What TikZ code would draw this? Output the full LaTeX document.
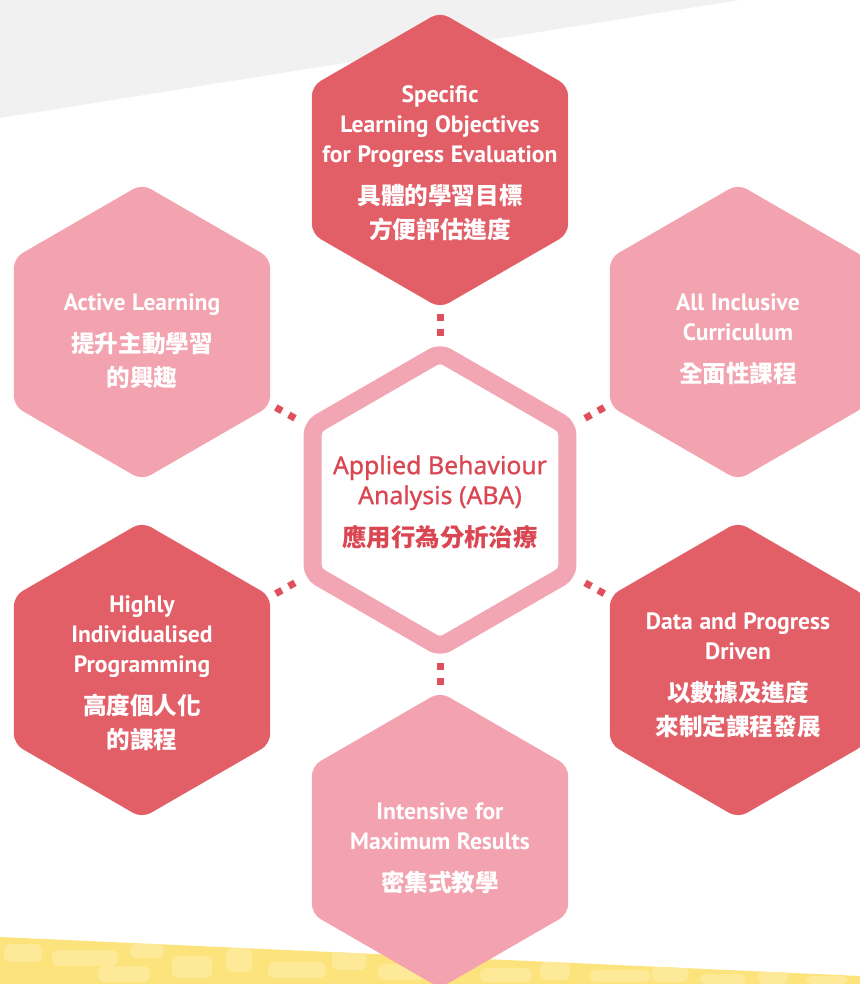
\documentclass[tikz,border=0pt]{standalone}
\usepackage{fontspec}
\usetikzlibrary{shapes.geometric}

\newfontfamily\engfont{PT Sans}
\newfontfamily\abafont{Noto Sans}[FakeBold=0.8]
\newfontfamily\cjkfont{Noto Sans CJK TC}

\definecolor{hexred}{HTML}{E35F68}
\definecolor{hexpink}{HTML}{F3A2AF}
\definecolor{ringpink}{HTML}{F2A5B3}
\definecolor{abared}{HTML}{DA4652}
\definecolor{dotred}{HTML}{E0505C}
\definecolor{bandgray}{HTML}{F1F1F1}
\definecolor{bandyellow}{HTML}{FCE37C}
\definecolor{spotyellow}{HTML}{FDE998}

% english lines, then chinese lines
\newcommand{\hexcaption}[2]{{\engfont\bfseries\fontsize{11.8}{15}\selectfont #1\par}\vskip4pt{\cjkfont\bfseries\fontsize{11.8}{17}\selectfont #2\par}}

\tikzset{
  hex/.style={regular polygon, regular polygon sides=6, shape border rotate=30, minimum size=148pt, inner sep=0pt, rounded corners=5pt},
  hexdark/.style={hex, fill=hexred},
  hexlight/.style={hex, fill=hexpink},
  hexcentre/.style={hex, minimum size=147pt, fill=white, draw=ringpink, line width=9pt, rounded corners=4pt},
  hextext/.style={text width=134pt, align=center, text=white, inner sep=0pt},
  dotlink/.style={draw=dotred, line width=3.5pt, dash pattern=on 3.5pt off 4pt, shorten <=3pt, shorten >=3pt}
}

\begin{document}
\begin{tikzpicture}[x=0.5pt, y=-0.5pt]
  \clip (0,0) rectangle (860,984);
  % Background bands
  \fill[bandgray] (0,0) -- (740,0) -- (0,118) -- cycle;
  \fill[bandyellow] (0,937) -- (860,976) -- (860,984) -- (0,984) -- cycle;
  \begin{scope}
    \clip (0,937) -- (860,976) -- (860,984) -- (0,984) -- cycle;
    \foreach \x/\y/\w/\h in {4/944/38/18, 52/950/66/16, 98/966/52/16, 130/944/34/14, 172/956/40/22,
      226/948/26/24, 268/962/58/16, 332/950/34/20, 378/964/46/16, 432/956/30/22, 480/968/52/14,
      540/962/30/18, 590/970/60/12, 652/966/36/16, 700/974/46/10, 758/970/30/14, 806/976/42/8}
      \fill[spotyellow, rounded corners=3pt] (\x,\y) rectangle ++(\w,\h);
  \end{scope}

  % Hexagons
  \node[hexdark] (objectives) at (440,160) {};
  \node[hexlight] (active) at (142,332) {};
  \node[hexlight] (inclusive) at (738,332) {};
  \node[hexdark] (individual) at (142,670) {};
  \node[hexdark] (datadriven) at (738,670) {};
  \node[hexlight] (intensive) at (440,840) {};
  \node[hexcentre] (aba) at (440,500) {};

  % Dotted links
  \draw[dotlink] (objectives) -- (aba);
  \draw[dotlink] (active) -- (aba);
  \draw[dotlink] (inclusive) -- (aba);
  \draw[dotlink] (individual) -- (aba);
  \draw[dotlink] (datadriven) -- (aba);
  \draw[dotlink] (aba) -- (intensive);

  % Texts
  \node[hextext] (objectivestext) at (440,163) {\hexcaption{Specific\\Learning Objectives\\for Progress Evaluation}{具體的學習目標\\方便評估進度}};
  \node[hextext] (activetext) at (142,341) {\hexcaption{Active Learning}{提升主動學習\\的興趣}};
  \node[hextext] (inclusivetext) at (738,339) {\hexcaption{All Inclusive\\Curriculum}{全面性課程}};
  \node[hextext] (individualtext) at (142,673) {\hexcaption{Highly\\Individualised\\Programming}{高度個人化\\的課程}};
  \node[hextext] (datadriventext) at (738,675) {\hexcaption{Data and Progress\\Driven}{以數據及進度\\來制定課程發展}};
  \node[hextext] (intensivetext) at (440,848) {\hexcaption{Intensive for\\Maximum Results}{密集式教學}};
  \node[hextext, text=abared] (abatext) at (440,502) {{\abafont\fontsize{12.4}{15}\selectfont Applied Behaviour\\Analysis (ABA)\par}\vskip4pt{\cjkfont\bfseries\fontsize{12.2}{17}\selectfont 應用行為分析治療\par}};
\end{tikzpicture}
\end{document}
